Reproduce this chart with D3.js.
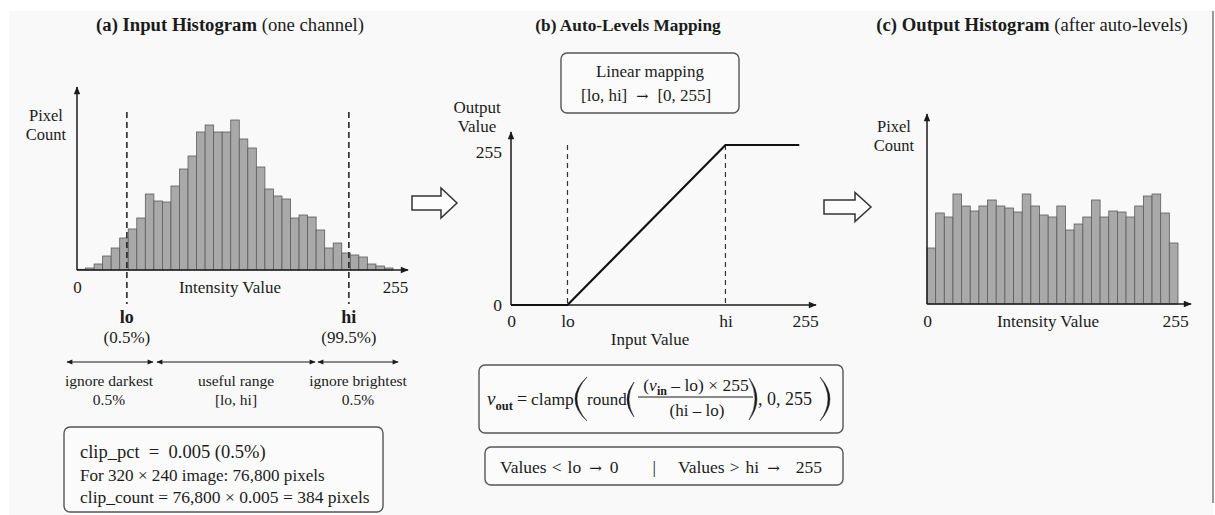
<!DOCTYPE html>
<html lang="en">
<head>
<meta charset="utf-8">
<title>Auto-Levels: input histogram, mapping, output histogram</title>
<script src="https://cdn.jsdelivr.net/npm/d3@7"></script>
<style>
  body { margin: 0; background: #fff; }
  svg text { font-family: "Liberation Serif", "Times New Roman", serif; fill: #1b1b1b; }
  svg text.arrow, svg tspan.arrow { font-family: "DejaVu Serif", serif; }
</style>
</head>
<body>
<script>

// ---- data ----
// (a) input histogram, relative pixel counts per bin (one channel)
var inputCounts = [0.7, 2, 6, 14, 22, 32, 41, 52, 76, 69, 68, 84, 101, 114, 138, 145, 138, 138, 150,
                   131, 122, 103, 81, 74, 71, 52, 55, 53, 40, 22, 27, 17, 15, 13, 6, 4, 2];
// (c) output histogram after auto-levels
var outputCounts = [56, 91, 87, 110, 98, 93, 98, 104, 98, 96, 92, 110, 98, 89, 87, 98, 74, 80, 87,
                    104, 87, 93, 92, 87, 98, 108, 110, 91, 61];
var rangeTicks = [0, 255];
var loA = 40, hiA = 218;            // clip points in panel (a)
var loB = 49, hiB = 186;            // clip points in panel (b)
var bTickValues = [0, loB, hiB, 255];
var bTickNames = ["0", "lo", "hi", "255"];
var mapIn  = [0, loB, hiB, 250];
var mapOut = [0, 0, 255, 255];
var spanTop = ["ignore darkest", "useful range", "ignore brightest"];
var spanBottom = ["0.5%", "[lo, hi]", "0.5%"];
var clipLines = ["clip_pct  =  0.005 (0.5%)",
                 "For 320 \u00d7 240 image: 76,800 pixels",
                 "clip_count = 76,800 \u00d7 0.005 = 384 pixels"];
var mapParts = ["[lo, hi]", "\u2192", "[0, 255]"];
var ruleParts = ["Values", "<", "lo", "\u2192", "0", "|", "Values", ">", "hi", "\u2192", "255"];

var w = 1215, h = 515;
var ink = "#1b1b1b";

var svg = d3.select("body").append("svg")
    .attr("width", w)
    .attr("height", h);

var defs = svg.append("defs");
defs.append("marker").attr("id", "ah")
    .attr("viewBox", "0 0 10 10").attr("refX", 9).attr("refY", 5)
    .attr("markerUnits", "userSpaceOnUse").attr("markerWidth", 9).attr("markerHeight", 8)
    .attr("orient", "auto-start-reverse")
  .append("path").attr("d", "M0,1L10,5L0,9z").attr("fill", ink);
defs.append("marker").attr("id", "sa")
    .attr("viewBox", "0 0 10 10").attr("refX", 9).attr("refY", 5)
    .attr("markerUnits", "userSpaceOnUse").attr("markerWidth", 7).attr("markerHeight", 6)
    .attr("orient", "auto-start-reverse")
  .append("path").attr("d", "M0,1L10,5L0,9z").attr("fill", ink);

// page background
svg.append("rect").attr("x", 9).attr("y", 11).attr("width", 1204).attr("height", 504).attr("fill", "#f9f9f9");
svg.append("line").attr("x1", 1213).attr("x2", 1213).attr("y1", 11).attr("y2", 503)
    .attr("stroke", "#777").attr("stroke-width", 1.5);

function label(g, x, y, txt, size, opts) {
    opts = opts || {};
    return g.append("text").attr("x", x).attr("y", y)
        .attr("text-anchor", opts.anchor || "middle")
        .attr("font-size", size)
        .attr("font-weight", opts.bold ? "bold" : null)
        .attr("font-style", opts.italic ? "italic" : null)
        .style("white-space", "pre")
        .text(txt);
}

function title(x, size, boldPart, rest) {
    var t = svg.append("text").attr("x", x).attr("y", 31)
        .attr("text-anchor", "middle").attr("font-size", size);
    t.append("tspan").attr("font-weight", "bold").text(boldPart);
    if (rest) t.append("tspan").text(rest);
}

function box(g, x, y, bw, bh) {
    g.append("rect").attr("x", x).attr("y", y).attr("width", bw).attr("height", bh)
        .attr("rx", 6).attr("fill", "#fbfbfb").attr("stroke", "#555").attr("stroke-width", 1.4);
}

function tickLabels(g, axis, size) {
    g.call(axis);
    g.attr("font-family", null).attr("font-size", null);
    g.select(".domain").remove();
    g.selectAll("text").attr("font-size", size);
    return g;
}

// lay text tokens left to right with given gaps; arrows use a font with a fuller arrow glyph
function tokens(g, x, y, parts, gaps, size) {
    parts.forEach(function(t, i) {
        var tok = g.append("text").attr("x", x).attr("y", y).attr("font-size", size).text(t);
        if (t === "\u2192") tok.attr("class", "arrow").attr("font-size", size - 2.5);
        x += tok.node().getComputedTextLength() + (i < gaps.length ? gaps[i] : 0);
    });
    return x;
}

function histogram(g, counts, band, y) {
    g.selectAll("rect.bar")
        .data(counts)
        .enter()
        .append("rect")
        .attr("class", "bar")
        .attr("x", function(d, i) { return band(i); })
        .attr("width", band.bandwidth())
        .attr("y", function(d) { return y(d); })
        .attr("height", function(d) { return y(0) - y(d); })
        .attr("fill", "#a9a9a9")
        .attr("stroke", "#5c5c5c")
        .attr("stroke-width", 0.8);
}

function arrowAxes(g, x0, y0, xEnd, yEnd) {
    g.append("line").attr("x1", x0).attr("y1", y0).attr("x2", xEnd).attr("y2", y0)
        .attr("stroke", ink).attr("stroke-width", 1.5).attr("marker-end", "url(#ah)");
    g.append("line").attr("x1", x0).attr("y1", y0).attr("x2", x0).attr("y2", yEnd)
        .attr("stroke", ink).attr("stroke-width", 1.5).attr("marker-end", "url(#ah)");
}

// ================= (a) input histogram =================
title(230, 18.7, "(a) Input Histogram", " (one channel)");

var xA = d3.scaleLinear().domain([0, 255]).range([77, 395]);
var bandA = d3.scaleBand().domain(d3.range(inputCounts.length)).range([77, 393]);
var yA = d3.scaleLinear().domain([0, 182]).range([270, 88]);
var gA = svg.append("g");

histogram(gA, inputCounts, bandA, yA);
arrowAxes(gA, xA(0), yA(0), 408, 87);

tickLabels(gA.append("g").attr("transform", "translate(0," + yA(0) + ")"),
    d3.axisBottom(xA).tickValues(rangeTicks).tickSize(0).tickPadding(10.5), 17);
label(gA, 230, 293, "Intensity Value", 17);
label(gA, 46, 121, "Pixel", 16.5);
label(gA, 46, 140, "Count", 16.5);

[loA, hiA].forEach(function(v) {
    gA.append("line").attr("x1", xA(v)).attr("x2", xA(v)).attr("y1", 112).attr("y2", 304)
        .attr("stroke", ink).attr("stroke-width", 1.5).attr("stroke-dasharray", "6,4");
});
label(gA, xA(loA), 323, "lo", 18, {bold: true});
label(gA, xA(loA), 343, "(0.5%)", 17);
label(gA, xA(hiA), 323, "hi", 18, {bold: true});
label(gA, xA(hiA), 343, "(99.5%)", 17);

var spans = [[67, 153], [157, 315], [318, 398]];
spans.forEach(function(s, i) {
    gA.append("line").attr("x1", s[0]).attr("x2", s[1]).attr("y1", 362).attr("y2", 362)
        .attr("stroke", ink).attr("stroke-width", 1.2)
        .attr("marker-start", "url(#sa)").attr("marker-end", "url(#sa)");
    var cx = (s[0] + s[1]) / 2 + (i == 0 ? -1 : 0);
    label(gA, cx, 386, spanTop[i], 15.5);
    label(gA, cx, 405, spanBottom[i], 15.5);
});

box(gA, 64, 427, 319, 85);
clipLines.forEach(function(t, i) {
    label(gA, 80, [458, 481, 503][i], t, [18.5, 17.1, 17.5][i], {anchor: "start"});
});

// hollow block arrows between panels
function blockArrow(x0, x1, xh, cy, shaft, head) {
    var p = d3.path();
    p.moveTo(x0, cy - shaft); p.lineTo(xh, cy - shaft); p.lineTo(xh, cy - head);
    p.lineTo(x1, cy); p.lineTo(xh, cy + head); p.lineTo(xh, cy + shaft);
    p.lineTo(x0, cy + shaft); p.closePath();
    svg.append("path").attr("d", p.toString()).attr("fill", "#fdfdfd")
        .attr("stroke", "#333").attr("stroke-width", 1.5).attr("stroke-linejoin", "miter");
}
blockArrow(412, 457, 441, 203, 7, 15);
blockArrow(824, 871, 855, 207, 7, 14.5);

// ================= (b) auto-levels mapping =================
title(628, 17.3, "(b) Auto-Levels Mapping");

var gB = svg.append("g");
var xB = d3.scaleLinear().domain([0, 255]).range([511, 805]);
var yB = d3.scaleLinear().domain([0, 255]).range([305, 145]);

box(gB, 561, 53, 178, 60);
label(gB, 650, 77, "Linear mapping", 17);
tokens(gB, 581, 101, mapParts, [9, 9], 17);

arrowAxes(gB, xB(0), yB(0), 816, 132);
[loB, hiB].forEach(function(v) {
    gB.append("line").attr("x1", xB(v)).attr("x2", xB(v)).attr("y1", yB(255)).attr("y2", yB(0))
        .attr("stroke", "#333").attr("stroke-width", 1.2).attr("stroke-dasharray", "5,4");
});
var line = d3.line().x(function(d) { return xB(d[0]); }).y(function(d) { return yB(d[1]); });
gB.append("path").attr("d", line(d3.zip(mapIn, mapOut)))
    .attr("fill", "none").attr("stroke", "#111").attr("stroke-width", 2.2);

tickLabels(gB.append("g").attr("transform", "translate(0," + yB(0) + ")"),
    d3.axisBottom(xB).tickValues(bTickValues).tickSize(0).tickPadding(9.5)
        .tickFormat(function(d, i) { return bTickNames[i]; }), 17.5);
var yAxisB = tickLabels(gB.append("g").attr("transform", "translate(" + xB(0) + ",0)"),
    d3.axisLeft(yB).tickValues(rangeTicks).tickSize(0).tickPadding(9), 17.5);
yAxisB.selectAll("text").filter(function(d) { return d === 255; }).attr("dy", "0.7em");
label(gB, 650, 345, "Input Value", 17);
label(gB, 477, 113, "Output", 17);
label(gB, 477, 132, "Value", 17);

// formula box
box(gB, 479, 365, 364, 68);
var f = gB.append("g");
var v = f.append("text").attr("x", 487).attr("y", 405).attr("font-size", 19);
v.append("tspan").attr("font-style", "italic").text("v");
v.append("tspan").attr("font-size", 12.5).attr("dy", 5).attr("font-weight", "bold").text("out");
label(f, 517, 405, "=", 18, {anchor: "start"});
label(f, 531, 405, "clamp", 17.5, {anchor: "start"});

// thin crescent-shaped parentheses; dir -1 opens right "(", +1 opens left ")"
function paren(xEnd, bulge, y1, y2, dir) {
    var m = (y1 + y2) / 2;
    var c = xEnd + dir * (2 * bulge);
    var p = d3.path();
    p.moveTo(xEnd, y1);
    p.quadraticCurveTo(c, m, xEnd, y2);
    p.quadraticCurveTo(c - dir * 4, m, xEnd, y1);
    p.closePath();
    f.append("path").attr("d", p.toString()).attr("fill", ink)
        .attr("stroke", ink).attr("stroke-width", 0.5);
}
paren(587, 12, 377, 421, -1);
label(f, 587, 405, "round", 17, {anchor: "start"});
paren(634, 7, 382, 417, -1);
var num = f.append("text").attr("x", 696).attr("y", 391).attr("text-anchor", "middle").attr("font-size", 17.5);
num.append("tspan").text("(");
num.append("tspan").attr("font-style", "italic").text("v");
num.append("tspan").attr("font-size", 12).attr("dy", 4).attr("font-weight", "bold").text("in");
num.append("tspan").attr("dy", -4).text(" \u2013 lo) \u00d7 255");
f.append("line").attr("x1", 638).attr("x2", 753).attr("y1", 397).attr("y2", 397)
    .attr("stroke", ink).attr("stroke-width", 1);
label(f, 697, 416, "(hi \u2013 lo)", 17);
paren(749, 8, 378, 420, 1);
label(f, 758, 405, ", 0, 255", 18, {anchor: "start"});
paren(820, 10, 377, 421, 1);

// clipping rule box
box(gB, 485, 447, 358, 38);
tokens(gB, 500, 473, ruleParts, [5, 6, 8, 8, 34, 22, 5, 6, 8, 16], 17.5);

// ================= (c) output histogram =================
title(1032, 18.7, "(c) Output Histogram", " (after auto-levels)");

var xC = d3.scaleLinear().domain([0, 255]).range([927, 1175]);
var bandC = d3.scaleBand().domain(d3.range(outputCounts.length)).range([927, 1178]);
var yC = d3.scaleLinear().domain([0, 189]).range([304, 115]);
var gC = svg.append("g");

histogram(gC, outputCounts, bandC, yC);
arrowAxes(gC, xC(0), yC(0), 1191, 114);
tickLabels(gC.append("g").attr("transform", "translate(0," + yC(0) + ")"),
    d3.axisBottom(xC).tickValues(rangeTicks).tickSize(0).tickPadding(10.5), 17.5);
label(gC, 1048, 327, "Intensity Value", 17);
label(gC, 894, 132, "Pixel", 16.5);
label(gC, 894, 151, "Count", 16.5);

</script>
</body>
</html>
